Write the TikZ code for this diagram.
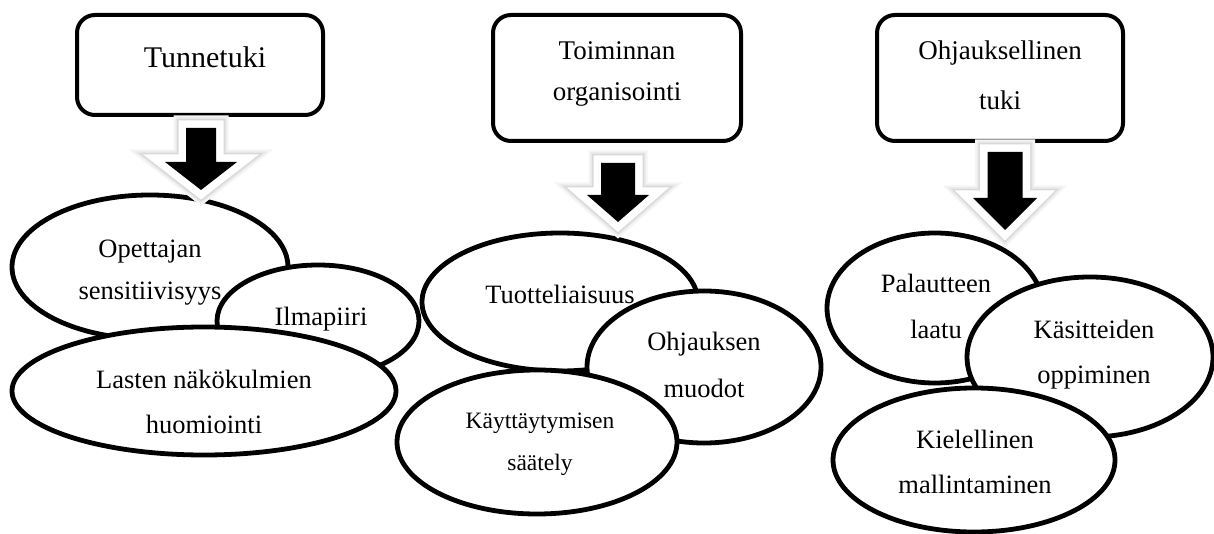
\documentclass[tikz,border=0pt]{standalone}
\usepackage{fontspec}
\setmainfont{Liberation Serif}
\usetikzlibrary{shapes.geometric}
\newcommand\arrowshape[6]{({#1-#3},#2) -- ({#1+#3},#2) -- ({#1+#3},#4) -- ({#1+#5},#4) -- (#1,#6) -- ({#1-#5},#4) -- ({#1-#3},#4) -- cycle}
\newcommand\bigarrow[6]{%
  \draw[line width=25, black!4, line join=miter] \arrowshape{#1}{#2}{#3}{#4}{#5}{#6};
  \draw[line width=21, black!9, line join=miter] \arrowshape{#1}{#2}{#3}{#4}{#5}{#6};
  \draw[line width=18, black!15, line join=miter] \arrowshape{#1}{#2}{#3}{#4}{#5}{#6};
  \draw[line width=15, white, line join=miter] \arrowshape{#1}{#2}{#3}{#4}{#5}{#6};
  \fill[black] \arrowshape{#1}{#2}{#3}{#4}{#5}{#6};}
\begin{document}
\begin{tikzpicture}[x=1pt,y=-1pt,
  headbox/.style={draw, line width=4, rounded corners=18, fill=white},
  bubble/.style={ellipse, draw, line width=4.8, fill=white, inner sep=0},
  ln/.style={anchor=base, inner sep=0, font=\fontsize{26.5}{30}\selectfont},
  lnsmall/.style={anchor=base, inner sep=0, font=\fontsize{23.5}{28}\selectfont},
  lnbox/.style={anchor=base, inner sep=0, font=\fontsize{27}{32}\selectfont},
  lnbig/.style={anchor=base, inner sep=0, font=\fontsize{30}{36}\selectfont}]
\useasboundingbox[fill=white] (0,0) rectangle (1214,534);

% header boxes
\draw[headbox] (77,15) rectangle (323,115);
\node[lnbig] (t1) at (205,68) {Tunnetuki};
\draw[headbox] (493,15) rectangle (741,141);
\node[lnbox] (t2a) at (617,60) {Toiminnan};
\node[lnbox] (t2b) at (617,101) {organisointi};
\draw[headbox] (877,15) rectangle (1123,141);
\node[lnbox] (t3a) at (1000,60) {Ohjauksellinen};
\node[lnbox] (t3b) at (1000,110) {tuki};

% group 1
\node[bubble, minimum width=276, minimum height=144] (e11) at (150,267) {};
\node[ln] (e11a) at (150,258) {Opettajan};
\node[ln] (e11b) at (150,300) {sensitiivisyys};
\node[bubble, minimum width=202, minimum height=112] (e12) at (318,321) {};
\node[ln] (e12a) at (321,325) {Ilmapiiri};
\node[bubble, minimum width=384, minimum height=128] (e13) at (204,391) {};
\node[ln] (e13a) at (204,388) {Lasten näkökulmien};
\node[ln] (e13b) at (204,433) {huomiointi};

% group 2
\node[bubble, minimum width=276, minimum height=138] (e21) at (560,302) {};
\node[ln] (e21a) at (560,303) {Tuotteliaisuus};
\node[bubble, minimum width=234, minimum height=152] (e22) at (704,367) {};
\node[ln] (e22a) at (704,350) {Ohjauksen};
\node[ln] (e22b) at (704,397) {muodot};
\node[bubble, minimum width=280, minimum height=144] (e23) at (537,442) {};
\node[lnsmall] (e23a) at (540,428) {Käyttäytymisen};
\node[lnsmall] (e23b) at (540,470) {säätely};

% group 3
\node[bubble, minimum width=216, minimum height=150] (e31) at (935,308) {};
\node[ln] (e31a) at (936,293) {Palautteen};
\node[ln] (e31b) at (936,338) {laatu};
\node[bubble, minimum width=246, minimum height=160] (e32) at (1090,357) {};
\node[ln] (e32a) at (1094,338) {Käsitteiden};
\node[ln] (e32b) at (1094,383) {oppiminen};
\node[bubble, minimum width=282, minimum height=144] (e33) at (974,460) {};
\node[ln] (e33a) at (975,448) {Kielellinen};
\node[ln] (e33b) at (975,493) {mallintaminen};

% block arrows
\bigarrow{201}{128}{15}{162}{36}{190}
\bigarrow{618}{163}{17}{195}{31}{222}
\bigarrow{1005}{152}{17.5}{198}{32}{230}
\end{tikzpicture}
\end{document}
